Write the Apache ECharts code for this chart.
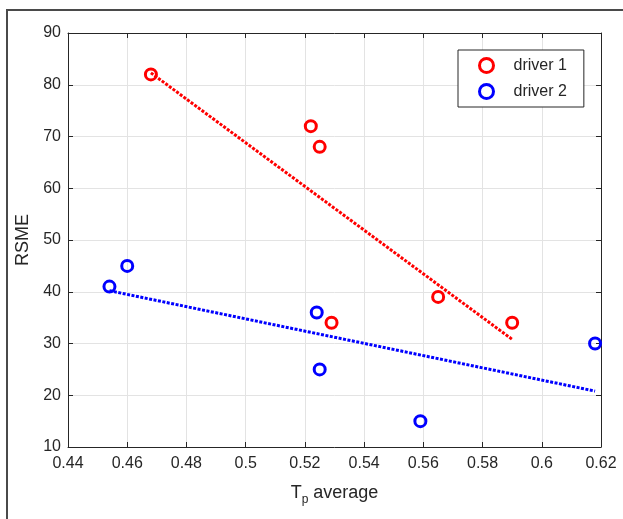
<!DOCTYPE html>
<html>
<head>
<meta charset="utf-8">
<script src="https://cdn.jsdelivr.net/npm/echarts@6/dist/echarts.min.js"></script>
<style>html,body{margin:0;padding:0;background:#fff}#c{width:623px;height:519px}</style>
</head>
<body>
<div id="c"></div>
<script>
// Data
const driver1X = [0.468, 0.522, 0.525, 0.529, 0.565, 0.590];
const driver1Y = [82, 72, 68, 34, 39, 34];
const driver2X = [0.454, 0.460, 0.524, 0.525, 0.559, 0.618];
const driver2Y = [41, 45, 36, 25, 15, 30];
// Fit-line endpoints
const fit1X = [0.468, 0.590];
const fit1Y = [82.3, 30.8];
const fit2X = [0.454, 0.618];
const fit2Y = [40.2, 20.8];
const seriesNames = ['driver 1', 'driver 2'];

const zip = (a, b) => a.map((v, i) => [v, b[i]]);
const txt = '#262626';
const font = 'Liberation Sans, Arial, sans-serif';

const chart = echarts.init(document.getElementById('c'), null, {renderer: 'canvas'});
const axisCommon = {
  axisLine: {show: true, onZero: false, lineStyle: {color: '#262626', width: 1}},
  axisTick: {show: true, inside: true, length: 5, lineStyle: {color: '#262626'}},
};
chart.setOption({
  animation: false,
  backgroundColor: '#fff',
  grid: {left: 68, top: 33, right: 22, bottom: 72, containLabel: false},
  graphic: [{
    type: 'polyline',
    shape: {points: [[7, 530], [7, 10], [640, 10]]},
    style: {stroke: '#4a4a4a', lineWidth: 2, fill: null},
    silent: true
  }],
  legend: {
    orient: 'vertical',
    left: 458, top: 50,
    padding: [7, 17, 7, 20],
    itemGap: 9,
    itemWidth: 14, itemHeight: 14,
    borderColor: '#262626', borderWidth: 1,
    backgroundColor: '#fff',
    textStyle: {fontSize: 16, color: txt, fontFamily: font, padding: [0, 0, 0, 15]},
    data: [
      {name: seriesNames[0], icon: 'circle', itemStyle: {color: 'rgba(0,0,0,0)', borderColor: '#ff0000', borderWidth: 3, opacity: 1}},
      {name: seriesNames[1], icon: 'circle', itemStyle: {color: 'rgba(0,0,0,0)', borderColor: '#0000ff', borderWidth: 3, opacity: 1}}
    ]
  },
  xAxis: [{
    type: 'value', min: 0.44, max: 0.62, interval: 0.02, position: 'bottom',
    ...axisCommon,
    axisLabel: {color: txt, fontSize: 16, fontFamily: font, margin: 9},
    splitLine: {show: true, lineStyle: {color: '#e3e3e3', width: 1}},
    name: '{a|T}{b|p}{a| average}',
    nameLocation: 'middle', nameGap: 33,
    nameTextStyle: {
      color: txt, fontFamily: font,
      rich: {
        a: {fontSize: 18, color: txt, fontFamily: font},
        b: {fontSize: 12, color: txt, fontFamily: font, padding: [14, 0, 0, 0]}
      }
    }
  }, {
    type: 'value', min: 0.44, max: 0.62, interval: 0.02, position: 'top',
    ...axisCommon,
    axisLabel: {show: false}, splitLine: {show: false}
  }],
  yAxis: [{
    type: 'value', min: 10, max: 90, interval: 10, position: 'left',
    ...axisCommon,
    axisLabel: {color: txt, fontSize: 16, fontFamily: font, margin: 7},
    splitLine: {show: true, lineStyle: {color: '#e3e3e3', width: 1}},
    name: 'RSME', nameLocation: 'middle', nameGap: 31,
    nameTextStyle: {color: txt, fontSize: 18, fontFamily: font}
  }, {
    type: 'value', min: 10, max: 90, interval: 10, position: 'right',
    ...axisCommon,
    axisLabel: {show: false}, splitLine: {show: false}
  }],
  series: [
    {
      name: seriesNames[0] + ' fit', type: 'line', data: zip(fit1X, fit1Y),
      symbol: 'none', lineStyle: {color: '#ff0000', width: 3, type: [3, 1.5], opacity: 1}, z: 2
    },
    {
      name: seriesNames[1] + ' fit', type: 'line', data: zip(fit2X, fit2Y),
      symbol: 'none', lineStyle: {color: '#0000ff', width: 3, type: [3, 1.5], opacity: 1}, z: 2
    },
    {
      name: seriesNames[0], type: 'scatter', data: zip(driver1X, driver1Y),
      symbol: 'circle', symbolSize: 11,
      itemStyle: {color: 'rgba(0,0,0,0)', borderColor: '#ff0000', borderWidth: 3, opacity: 1}, z: 3
    },
    {
      name: seriesNames[1], type: 'scatter', data: zip(driver2X, driver2Y),
      symbol: 'circle', symbolSize: 11,
      itemStyle: {color: 'rgba(0,0,0,0)', borderColor: '#0000ff', borderWidth: 3, opacity: 1}, z: 3
    }
  ]
});
</script>
</body>
</html>
